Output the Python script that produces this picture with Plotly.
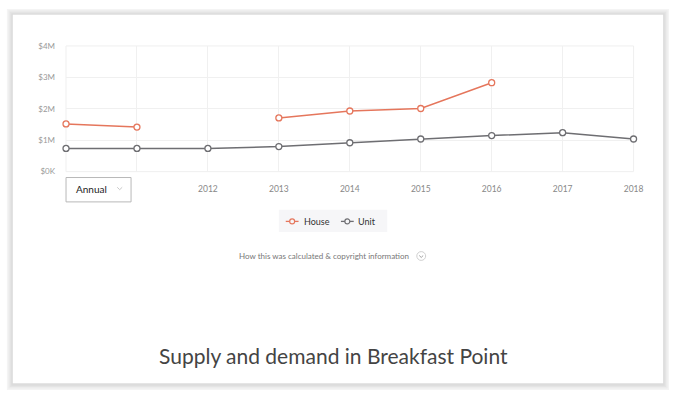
import plotly.graph_objects as go

years = [2010, 2011, 2012, 2013, 2014, 2015, 2016, 2017, 2018]
house = [1.52e6, 1.42e6, None, 1.71e6, 1.93e6, 2.01e6, 2.83e6, None, None]
unit = [0.74e6, 0.74e6, 0.74e6, 0.80e6, 0.92e6, 1.04e6, 1.15e6, 1.24e6, 1.04e6]
x_tick_text = ["", "", "2012", "2013", "2014", "2015", "2016", "2017", "2018"]
y_tick_vals = [0, 1e6, 2e6, 3e6, 4e6]
y_tick_text = ["$0K", "$1M", "$2M", "$3M", "$4M"]
series_names = ["House", "Unit"]

W, H = 682, 396
FONT = "Lato, 'Open Sans', sans-serif"
HOUSE_C = "#e5765c"
UNIT_C = "#6e6e72"

def px(x):
    return x / W

def py(y):
    return 1 - y / H

fig = go.Figure()
fig.add_trace(go.Scatter(
    x=years, y=house, name=series_names[0], mode="lines+markers",
    line=dict(color=HOUSE_C, width=1.5),
    marker=dict(symbol="circle", size=6, color="white", line=dict(color=HOUSE_C, width=1.3)),
    cliponaxis=False, connectgaps=False, showlegend=False,
))
fig.add_trace(go.Scatter(
    x=years, y=unit, name=series_names[1], mode="lines+markers",
    line=dict(color=UNIT_C, width=1.5),
    marker=dict(symbol="circle", size=6, color="white", line=dict(color=UNIT_C, width=1.3)),
    cliponaxis=False, showlegend=False,
))

shapes = []
# outer shadow around card
for i, c in enumerate(["#f4f4f4", "#ececec", "#e4e4e4", "#dcdcdc"]):
    d = 6 - i * 1.5
    shapes.append(dict(type="rect", xref="paper", yref="paper",
                       x0=px(13 - d), x1=px(673 + d), y0=py(388 + d + 1), y1=py(10 - d),
                       fillcolor=c, line=dict(width=0), layer="below"))
# card
shapes.append(dict(type="rect", xref="paper", yref="paper",
                   x0=px(13), x1=px(673), y0=py(388), y1=py(10),
                   fillcolor="#ffffff", line=dict(width=0), layer="below"))
# light frame around plot area
shapes.append(dict(type="rect", xref="paper", yref="paper",
                   x0=px(67), x1=px(643), y0=py(171), y1=py(42),
                   line=dict(color="#efefef", width=1), layer="below"))
# Annual dropdown box
shapes.append(dict(type="rect", xref="paper", yref="paper",
                   x0=px(67), x1=px(133), y0=py(202), y1=py(177),
                   fillcolor="#ffffff", line=dict(color="#b8b8b8", width=1)))
shapes.append(dict(type="path", xref="paper", yref="paper",
                   path=f"M {px(119)} {py(187)} L {px(121.5)} {py(189.5)} L {px(124)} {py(187)}",
                   line=dict(color="#c8c8c8", width=1)))
# info chevron circle
shapes.append(dict(type="circle", xref="paper", yref="paper",
                   x0=px(423), x1=px(432), y0=py(262), y1=py(253),
                   line=dict(color="#d0d0d0", width=1)))
shapes.append(dict(type="path", xref="paper", yref="paper",
                   path=f"M {px(425.5)} {py(257)} L {px(427.5)} {py(259)} L {px(429.5)} {py(257)}",
                   line=dict(color="#a0a0a0", width=1)))

# legend box (manual)
shapes.append(dict(type="rect", xref="paper", yref="paper",
                   x0=px(283), x1=px(393), y0=py(233), y1=py(210),
                   fillcolor="#f6f6f8", line=dict(width=0), layer="below"))
leg_items = [(series_names[0], HOUSE_C, 290, 307), (series_names[1], UNIT_C, 346, 361)]
annotations = []
for name, col, sx, tx in leg_items:
    shapes.append(dict(type="line", xref="paper", yref="paper",
                       x0=px(sx), x1=px(sx + 13), y0=py(222), y1=py(222),
                       line=dict(color=col, width=1.3)))
    shapes.append(dict(type="circle", xref="paper", yref="paper",
                       x0=px(sx + 4), x1=px(sx + 9), y0=py(224.5), y1=py(219.5),
                       fillcolor="#f6f6f8", line=dict(color=col, width=1.2)))
    annotations.append(dict(text=name, xref="paper", yref="paper", x=px(tx), y=py(222),
                            xanchor="left", yanchor="middle", showarrow=False,
                            font=dict(family=FONT, size=9, color="#333333")))

annotations += [
    dict(text="Annual", xref="paper", yref="paper", x=px(75), y=py(189),
         xanchor="left", yanchor="middle", showarrow=False,
         font=dict(family=FONT, size=10, color="#222222")),
    dict(text="How this was calculated &amp; copyright information", xref="paper", yref="paper",
         x=px(329), y=py(257.5), xanchor="center", yanchor="middle", showarrow=False,
         font=dict(family=FONT, size=8, color="#777777")),
    dict(text="Supply and demand in Breakfast Point", xref="paper", yref="paper",
         x=px(338), y=py(360), xanchor="center", yanchor="middle", showarrow=False,
         font=dict(family=FONT, size=21, color="#444444")),
]

fig.update_layout(
    width=W, height=H,
    margin=dict(l=0, r=0, t=0, b=0),
    paper_bgcolor="#ffffff",
    plot_bgcolor="rgba(0,0,0,0)",
    font=dict(family=FONT, color="#888888"),
    shapes=shapes,
    annotations=annotations,
    showlegend=False,
    xaxis=dict(
        domain=[px(67), px(643)], range=[2010, 2018],
        tickmode="array", tickvals=years, ticktext=x_tick_text,
        showgrid=True, gridcolor="#f0f0f0", gridwidth=1,
        zeroline=False, showline=False, ticks="",
        ticklabelstandoff=11,
        tickfont=dict(family=FONT, size=8.5, color="#888888"),
        fixedrange=True,
    ),
    yaxis=dict(
        domain=[py(171), py(42)], range=[0, 4e6],
        tickmode="array", tickvals=y_tick_vals, ticktext=y_tick_text,
        showgrid=True, gridcolor="#f0f0f0", gridwidth=1,
        zeroline=False, showline=False, ticks="",
        ticklabelstandoff=10,
        tickfont=dict(family=FONT, size=8, color="#999999"),
        fixedrange=True,
    ),
)

fig.write_html("out.html", config=dict(displayModeBar=False, responsive=False),
               post_script="document.body.style.margin='0';document.body.style.overflow='hidden';")
